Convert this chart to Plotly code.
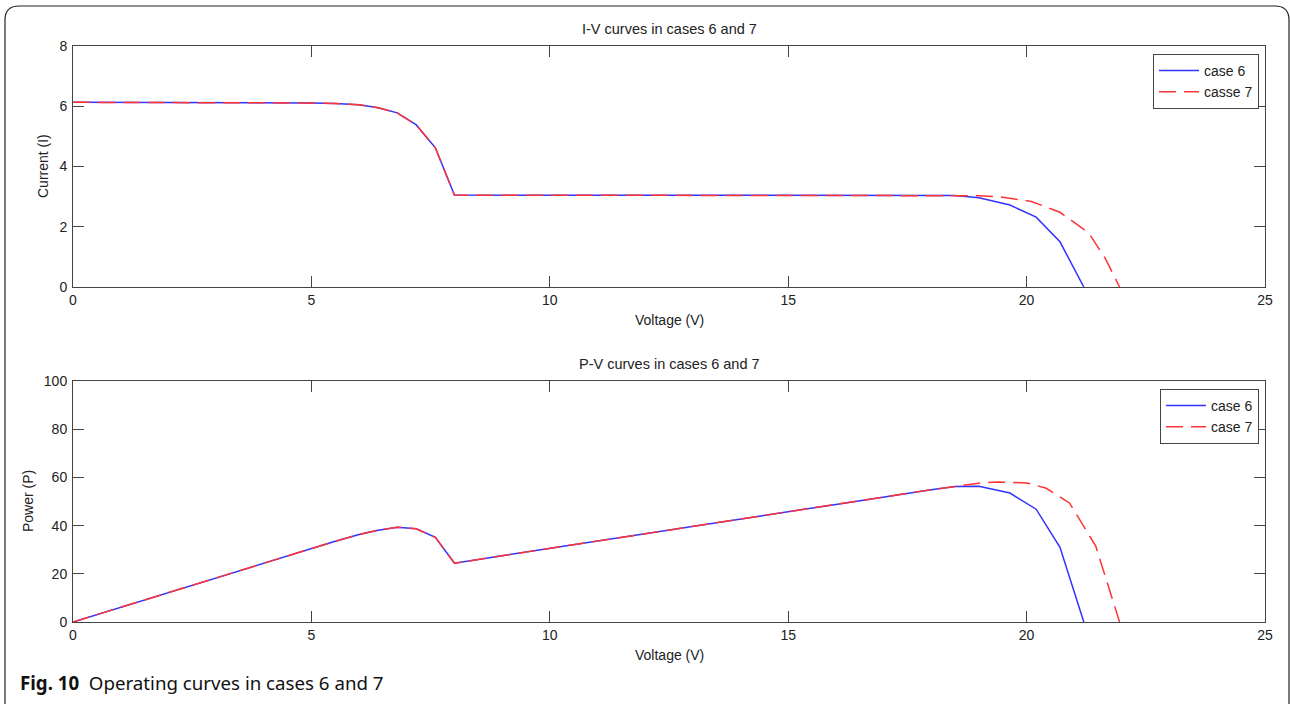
import plotly.graph_objects as go

# ---- data ----
v6 = [0, 1, 2, 3, 4, 5, 5.5, 6.0, 6.4, 6.8, 7.2, 7.6, 8.0, 9, 10, 12, 14, 16, 18, 18.5, 19.0, 19.65, 20.2, 20.7, 21.2]
i6 = [6.13, 6.13, 6.13, 6.12, 6.12, 6.11, 6.09, 6.05, 5.95, 5.78, 5.38, 4.62, 3.05, 3.05, 3.05, 3.05, 3.05, 3.05, 3.05, 3.04, 2.96, 2.72, 2.32, 1.50, 0.0]
v7 = [0, 1, 2, 3, 4, 5, 5.5, 6.0, 6.4, 6.8, 7.2, 7.6, 8.0, 9, 10, 12, 14, 16, 18, 18.5, 19.0, 19.5, 20.1, 20.7, 21.3, 21.65, 21.95]
i7 = [6.13, 6.13, 6.13, 6.12, 6.12, 6.11, 6.09, 6.05, 5.95, 5.78, 5.38, 4.62, 3.05, 3.05, 3.05, 3.05, 3.05, 3.05, 3.05, 3.04, 3.03, 2.98, 2.84, 2.48, 1.80, 0.95, 0.0]

pv6_v = [0, 1, 2, 3, 4, 5, 5.5, 6.0, 6.4, 6.8, 7.2, 7.6, 8.0, 9, 10, 12, 14, 16, 18, 18.5, 19.0, 19.65, 20.2, 20.7, 21.2]
p6 = [0.0, 6.1, 12.3, 18.4, 24.5, 30.5, 33.5, 36.3, 38.1, 39.3, 38.7, 35.1, 24.4, 27.5, 30.5, 36.6, 42.7, 48.8, 54.9, 56.2, 56.3, 53.5, 46.8, 31.0, 0.0]
pv7_v = [0, 1, 2, 3, 4, 5, 5.5, 6.0, 6.4, 6.8, 7.2, 7.6, 8.0, 9, 10, 12, 14, 16, 18, 18.5, 19.0, 19.4, 20.0, 20.4, 20.9, 21.45, 21.95]
p7 = [0.0, 6.1, 12.3, 18.4, 24.5, 30.5, 33.5, 36.3, 38.1, 39.3, 38.7, 35.1, 24.4, 27.5, 30.5, 36.6, 42.7, 48.8, 54.9, 56.2, 57.6, 58.1, 57.7, 55.6, 49.4, 31.5, 0.0]

x_ticks = [0, 5, 10, 15, 20, 25]
i_ticks = [0, 2, 4, 6, 8]
p_ticks = [0, 20, 40, 60, 80, 100]

W, H = 1290, 704
BLUE = "#3333ff"
RED = "#ff3333"
AX = "#444444"
TXT = "#222222"
FONT = "Liberation Sans, Arial, sans-serif"
DASH = "17px,8px"

fig = go.Figure()
fig.add_trace(go.Scatter(x=v6, y=i6, mode="lines", name="case 6",
                         line=dict(color=BLUE, width=1.5), xaxis="x", yaxis="y", legend="legend"))
fig.add_trace(go.Scatter(x=v7, y=i7, mode="lines", name="casse 7",
                         line=dict(color=RED, width=1.5, dash=DASH), xaxis="x", yaxis="y", legend="legend"))
fig.add_trace(go.Scatter(x=pv6_v, y=p6, mode="lines", name="case 6",
                         line=dict(color=BLUE, width=1.5), xaxis="x2", yaxis="y2", legend="legend2"))
fig.add_trace(go.Scatter(x=pv7_v, y=p7, mode="lines", name="case 7",
                         line=dict(color=RED, width=1.5, dash=DASH), xaxis="x2", yaxis="y2", legend="legend2"))

x0, x1 = 73 / W, 1265 / W
top_dom = [1 - 287 / H, 1 - 46 / H]
bot_dom = [1 - 622 / H, 1 - 381 / H]

common_axis = dict(showline=True, linecolor=AX, linewidth=1, mirror="ticks", ticks="inside",
                   ticklen=11, tickcolor=AX, tickwidth=1, showgrid=False, zeroline=False,
                   automargin=False,
                   tickfont=dict(family=FONT, size=14, color=TXT))

fig.update_layout(
    template="none",
    width=W, height=H, margin=dict(l=0, r=0, t=0, b=0, pad=0), autosize=False,
    paper_bgcolor="white", plot_bgcolor="white",
    font=dict(family=FONT, size=14, color=TXT),
    xaxis=dict(domain=[x0, x1], range=[0, 25], tickvals=x_ticks, anchor="y", **common_axis),
    yaxis=dict(domain=top_dom, range=[0, 8], tickvals=i_ticks, anchor="x", ticklabelstandoff=2, **common_axis),
    xaxis2=dict(domain=[x0, x1], range=[0, 25], tickvals=x_ticks, anchor="y2", **common_axis),
    yaxis2=dict(domain=bot_dom, range=[0, 100], tickvals=p_ticks, anchor="x2", ticklabelstandoff=2, **common_axis),
    legend=dict(x=1259 / W, y=1 - 54 / H, xanchor="right", yanchor="top",
                bgcolor="white", bordercolor=AX, borderwidth=1,
                font=dict(family=FONT, size=14, color=TXT), tracegroupgap=0,
                itemwidth=40),
    legend2=dict(x=1259 / W, y=1 - 389 / H, xanchor="right", yanchor="top",
                 bgcolor="white", bordercolor=AX, borderwidth=1,
                 font=dict(family=FONT, size=14, color=TXT), tracegroupgap=0,
                 itemwidth=40),
    showlegend=True,
)

def ann(text, x, y, size=14, angle=0, xanchor="center", family=FONT):
    fig.add_annotation(text=text, x=x / W, y=1 - y / H, xref="paper", yref="paper",
                       xanchor=xanchor, yanchor="middle", showarrow=False, textangle=angle,
                       font=dict(family=family, size=size, color=TXT))

cx = (73 + 1265) / 2
# subplot titles
ann("I-V curves in cases 6 and 7", cx, 29, size=14.5)
ann("P-V curves in cases 6 and 7", cx, 364, size=14.5)
# axis titles
ann("Voltage (V)", cx, 320)
ann("Voltage (V)", cx, 655)
ann("Current (I)", 43, 166, angle=-90)
ann("Power (P)", 28, 501, angle=-90)

# caption
fig.add_annotation(text="<b>Fig. 10</b>  Operating curves in cases 6 and 7", x=18 / W, y=1 - 682 / H,
                   xref="paper", yref="paper", xanchor="left", yanchor="middle", showarrow=False,
                   font=dict(family="Noto Sans, Open Sans, sans-serif", size=18.7, color="#111111"))

# rounded outer frame
r = 14
L, T, R, B = 5 / W, 1 - 6 / H, 1289 / W, 1 - 720 / H
rx, ry = r / W, r / H
path = (f"M {L+rx},{T} L {R-rx},{T} Q {R},{T} {R},{T-ry} L {R},{B+ry} Q {R},{B} {R-rx},{B} "
        f"L {L+rx},{B} Q {L},{B} {L},{B+ry} L {L},{T-ry} Q {L},{T} {L+rx},{T} Z")
fig.add_shape(type="path", path=path, xref="paper", yref="paper",
              line=dict(color="#222222", width=1.2), layer="below")

fig.write_html("out.html")
